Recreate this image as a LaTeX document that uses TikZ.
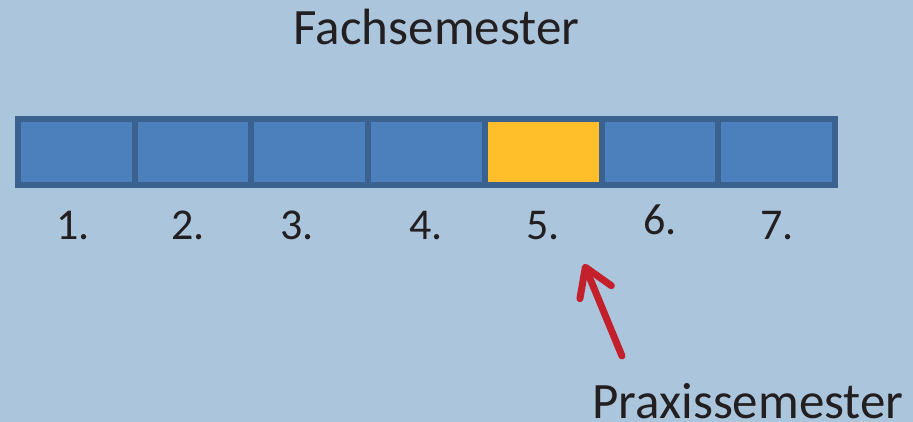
\documentclass[tikz,border=0pt]{standalone}
\usepackage{fontspec}
\setmainfont{Carlito}
\usetikzlibrary{arrows.meta}
\definecolor{bgblue}{HTML}{ABC5DD}
\definecolor{semblue}{HTML}{4B80BC}
\definecolor{semborder}{HTML}{3A6190}
\definecolor{semgold}{HTML}{FFBF2A}
\definecolor{arrowred}{HTML}{C3202B}
\definecolor{textdark}{HTML}{231F20}

\begin{document}
\begin{tikzpicture}[x=1pt, y=-1pt,
    semester/.style={draw=semborder, line width=6pt, minimum width=116.7pt,
      minimum height=66pt, inner sep=0pt, outer sep=0pt},
    num/.style={anchor=base, inner sep=0pt, text=textdark,
      font=\fontsize{44}{44}\selectfont},
    title/.style={inner sep=0pt, text=textdark, font=\fontsize{51}{51}\selectfont},
    pointer/.style={draw=arrowred, line width=7pt, line cap=round,
      -{Straight Barb[length=27pt, width=34pt, line cap=round, line join=round]}}]
        \fill[bgblue] (0, 0) rectangle (913, 422);
        \useasboundingbox (0, 0) rectangle (913, 422);

        % semester boxes
        \foreach \i/\c in {1/semblue, 2/semblue, 3/semblue, 4/semblue, 5/semgold, 6/semblue, 7/semblue}
          \node[semester, fill=\c] (s\i) at ({18 + 116.7*(\i - 0.5)}, 152) {};

        % numbers
        \node[num] (n1) at (73, 240) {1.};
        \node[num] (n2) at (188, 240) {2.};
        \node[num] (n3) at (297, 240) {3.};
        \node[num] (n4) at (426, 240) {4.};
        \node[num] (n5) at (543, 240) {5.};
        \node[num] (n6) at (660, 235) {6.};
        \node[num] (n7) at (777, 240) {7.};

        \node[title, anchor=base] (fach) at (436.5, 45) {Fachsemester};
        \node[title, anchor=base west] (praxis) at (592, 418) {Praxissemester};

        \coordinate (tail) at (622, 356);
        \coordinate (tip) at (584, 264);
        \draw[pointer] (tail) -- (tip);
    \end{tikzpicture}
\end{document}
